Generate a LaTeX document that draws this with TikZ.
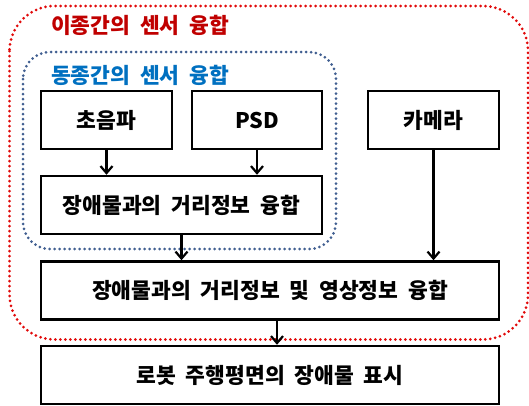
\documentclass[tikz,border=0pt]{standalone}
\usepackage{fontspec}
\setmainfont{Noto Sans CJK KR}[WordSpace=2.0]
\usetikzlibrary{arrows.meta}
\definecolor{titlered}{RGB}{192,0,0}
\definecolor{titleblue}{RGB}{0,112,192}
\definecolor{dotred}{RGB}{225,10,10}
\definecolor{dotblue}{RGB}{65,95,145}
\tikzset{
  box/.style={draw=black, line width=2.5pt, minimum height=58pt, inner sep=0pt,
    font=\fontsize{21.5}{24}\selectfont\bfseries},
  conn/.style={line width=2.2pt, -{Straight Barb[length=7pt,width=12pt,line width=2.2pt]}},
  dotline/.style={line width=3pt, line cap=round, dash pattern=on 0pt off 5pt},
  grouptitle/.style={anchor=west, inner sep=0pt, font=\fontsize{21.5}{24}\selectfont\bfseries}
}
\begin{document}
\begin{tikzpicture}[x=1pt,y=-1pt]
\useasboundingbox (0,0) rectangle (529,405);
% group outlines
\draw[dotline, dotred, rounded corners=45pt] (9.5,6) rectangle (528,339.5);
\draw[dotline, dotblue, rounded corners=27pt] (23,52) rectangle (336,249);
\node[grouptitle, text=titlered] (t1) at (51,25) {이종간의 센서 융합};
\node[grouptitle, text=titleblue] (t2) at (51,75) {동종간의 센서 융합};
% boxes
\node[box, minimum width=131pt] (a) at (106.5,120) {초음파};
\node[box, minimum width=130pt] (b) at (257,120) {PSD};
\node[box, minimum width=131pt] (c) at (433.5,120) {카메라};
\node[box, minimum width=281pt] (d) at (181.5,205) {장애물과의 거리정보 융합};
\node[box, minimum width=458pt] (e) at (270,290.5) {장애물과의 거리정보 및 영상정보 융합};
\node[box, minimum width=458pt] (f) at (270,375) {로봇 주행평면의 장애물 표시};
% connectors
\draw[conn] (a.south) -- (a.south |- d.north);
\draw[conn] (b.south) -- (b.south |- d.north);
\draw[conn] (d.south) -- (d.south |- e.north);
\draw[conn] (c.south) -- (c.south |- e.north);
\draw[conn] ([xshift=7pt]e.south) -- ([xshift=7pt]f.north);
\end{tikzpicture}
\end{document}
